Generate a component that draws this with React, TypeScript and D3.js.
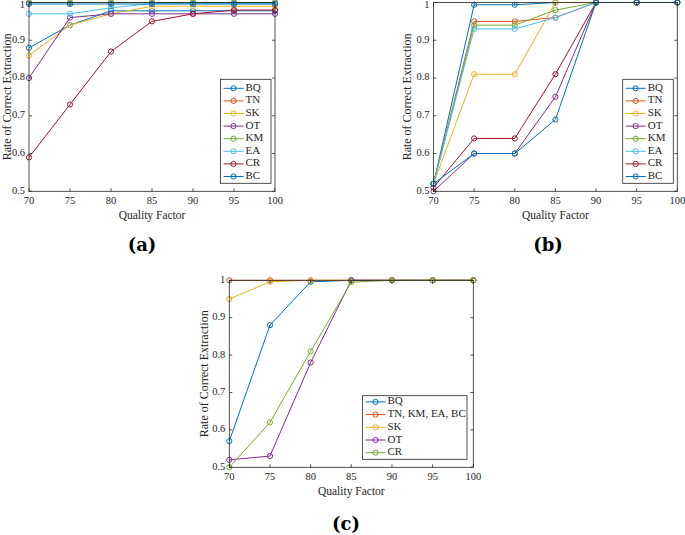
import React from "react";
import * as d3 from "d3";

// ---------- data ----------
const qualityFactors = [70, 75, 80, 85, 90, 95, 100];
const yTickValues = [0.5, 0.6, 0.7, 0.8, 0.9, 1];
const xTickValues = [70, 75, 80, 85, 90, 95, 100];

const namesAB = ["BQ", "TN", "SK", "OT", "KM", "EA", "CR", "BC"];
const colorsAB = ["#0072BD", "#D95319", "#EDB120", "#7E2F8E", "#77AC30", "#4DBEEE", "#A2142F", "#0072BD"];

// panel (a)
const aBQ = [0.88, 0.94, 0.978, 0.978, 0.978, 0.978, 0.978];
const aTN = [1, 1, 1, 1, 1, 1, 1];
const aSK = [0.86, 0.94, 0.97, 0.99, 0.99, 0.99, 0.99];
const aOT = [0.8, 0.96, 0.97, 0.97, 0.97, 0.97, 0.97];
const aKM = [1, 1, 1, 1, 1, 1, 1];
const aEA = [0.97, 0.97, 0.986, 0.997, 0.997, 0.997, 0.997];
const aCR = [0.59, 0.73, 0.87, 0.95, 0.97, 0.98, 0.98];
const aBC = [0.996, 0.996, 0.996, 0.996, 0.996, 0.996, 0.996];

// panel (b)
const bBQ = [0.52, 0.994, 0.994, 1, 1, 1, 1];
const bTN = [0.52, 0.95, 0.95, 0.96, 1, 1, 1];
const bSK = [0.52, 0.81, 0.81, 1, 1, 1, 1];
const bOT = [0.5, 0.6, 0.6, 0.75, 1, 1, 1];
const bKM = [0.52, 0.94, 0.94, 0.98, 1, 1, 1];
const bEA = [0.52, 0.93, 0.93, 0.96, 1, 1, 1];
const bCR = [0.51, 0.64, 0.64, 0.81, 1, 1, 1];
const bBC = [0.52, 0.6, 0.6, 0.69, 1, 1, 1];

// panel (c)
const namesC = ["BQ", "TN, KM, EA, BC", "SK", "OT", "CR"];
const colorsC = ["#0072BD", "#D95319", "#EDB120", "#7E2F8E", "#77AC30"];
const cBQ = [0.57, 0.88, 0.996, 1, 1, 1, 1];
const cTN = [1, 1, 1, 1, 1, 1, 1];
const cSK = [0.95, 0.996, 1, 1, 1, 1, 1];
const cOT = [0.52, 0.53, 0.78, 1, 1, 1, 1];
const cCR = [0.5, 0.62, 0.81, 0.995, 1, 1, 1];

const FONT = "'Liberation Serif', 'Times New Roman', serif";

type Series = { name: string; color: string; values: number[] };

type PanelProps = {
  series: Series[];
  x0: number; x1: number; y0: number; y1: number;
  legend: { left: number; right: number; top: number; bottom: number; first: number; step: number };
  yLabelX: number;
  xTickY: number;
  xLabelY: number;
  tag: string; tagX: number; tagY: number;
};

function Panel(p: PanelProps) {
  const x = d3.scaleLinear().domain([70, 100]).range([p.x0, p.x1]);
  const y = d3.scaleLinear().domain([0.5, 1]).range([p.y1, p.y0]);
  const line = d3.line<number>().x((_, i) => x(qualityFactors[i])).y((v) => y(v));
  const tl = 3;
  const lg = p.legend;
  return (
    <g>
      {/* series */}
      {p.series.map((s, si) => (
        <g key={si}>
          <path d={line(s.values) || ""} fill="none" stroke={s.color} strokeWidth={1} />
          {s.values.map((v, i) => (
            <circle key={i} cx={x(qualityFactors[i])} cy={y(v)} r={2.6} fill="none" stroke={s.color} strokeWidth={1} />
          ))}
        </g>
      ))}
      {/* box */}
      <rect x={p.x0} y={p.y0} width={p.x1 - p.x0} height={p.y1 - p.y0} fill="none" stroke="#262626" strokeWidth={0.8} />
      {/* x ticks */}
      {xTickValues.map((t) => (
        <g key={"x" + t}>
          <line x1={x(t)} x2={x(t)} y1={p.y1} y2={p.y1 - tl} stroke="#262626" strokeWidth={0.8} />
          <line x1={x(t)} x2={x(t)} y1={p.y0} y2={p.y0 + tl} stroke="#262626" strokeWidth={0.8} />
          <text x={x(t)} y={p.xTickY} textAnchor="middle" dominantBaseline="middle" fontFamily={FONT} fontSize={10.5} fill="#262626">{t}</text>
        </g>
      ))}
      {/* y ticks */}
      {yTickValues.map((t) => (
        <g key={"y" + t}>
          <line x1={p.x0} x2={p.x0 + tl} y1={y(t)} y2={y(t)} stroke="#262626" strokeWidth={0.8} />
          <line x1={p.x1} x2={p.x1 - tl} y1={y(t)} y2={y(t)} stroke="#262626" strokeWidth={0.8} />
          <text x={p.x0 - 4} y={Math.max(y(t), 6)} textAnchor="end" dominantBaseline="middle" fontFamily={FONT} fontSize={10.5} fill="#262626">{String(t)}</text>
        </g>
      ))}
      {/* axis labels */}
      <text x={(p.x0 + p.x1) / 2} y={p.xLabelY} textAnchor="middle" dominantBaseline="middle" fontFamily={FONT} fontSize={11.5} fill="#262626">Quality Factor</text>
      <text transform={`translate(${p.yLabelX},${(p.y0 + p.y1) / 2}) rotate(-90)`} textAnchor="middle" dominantBaseline="middle" fontFamily={FONT} fontSize={12} fill="#262626">Rate of Correct Extraction</text>
      {/* legend */}
      <rect x={lg.left} y={lg.top} width={lg.right - lg.left} height={lg.bottom - lg.top} fill="white" stroke="#262626" strokeWidth={0.8} />
      {p.series.map((s, i) => {
        const yy = lg.first + i * lg.step;
        return (
          <g key={"l" + i}>
            <line x1={lg.left + 3} x2={lg.left + 23} y1={yy} y2={yy} stroke={s.color} strokeWidth={1} />
            <circle cx={lg.left + 13} cy={yy} r={2.6} fill="none" stroke={s.color} strokeWidth={1} />
            <text x={lg.left + 25} y={yy} dominantBaseline="middle" fontFamily={FONT} fontSize={11} fill="#262626">{s.name}</text>
          </g>
        );
      })}
      {/* panel tag */}
      <text x={p.tagX} y={p.tagY} textAnchor="middle" dominantBaseline="middle" fontFamily="'DejaVu Serif', serif" fontWeight="bold" fontSize={18} fill="#000">{p.tag}</text>
    </g>
  );
}

function mk(names: string[], colors: string[], vals: number[][]): Series[] {
  return vals.map((v, i) => ({ name: names[i], color: colors[i], values: v }));
}

export default function App() {
  const seriesA = mk(namesAB, colorsAB, [aBQ, aTN, aSK, aOT, aKM, aEA, aCR, aBC]);
  const seriesB = mk(namesAB, colorsAB, [bBQ, bTN, bSK, bOT, bKM, bEA, bCR, bBC]);
  const seriesC = mk(namesC, colorsC, [cBQ, cTN, cSK, cOT, cCR]);
  return (
    <svg width={685} height={535} style={{ position: "absolute", left: 0, top: 0, background: "white" }}>
      <rect x={0} y={0} width={685} height={535} fill="white" />
      <Panel
        series={seriesA}
        x0={29} x1={275} y0={2.5} y1={191.3}
        legend={{ left: 220.5, right: 271, top: 79.3, bottom: 183.3, first: 88.3, step: 12.6 }}
        yLabelX={8} xTickY={201.5} xLabelY={216.5}
        tag="(a)" tagX={142} tagY={246}
      />
      <Panel
        series={seriesB}
        x0={433.5} x1={677.3} y0={2.5} y1={191.3}
        legend={{ left: 622.7, right: 673.3, top: 79.3, bottom: 183.3, first: 88.3, step: 12.6 }}
        yLabelX={408} xTickY={201.5} xLabelY={216.5}
        tag="(b)" tagX={548} tagY={246}
      />
      <Panel
        series={seriesC}
        x0={229.3} x1={473.3} y0={280.3} y1={467.3}
        legend={{ left: 362.5, right: 467, top: 395.7, bottom: 459.3, first: 401.9, step: 12.7 }}
        yLabelX={205} xTickY={477.5} xLabelY={492}
        tag="(c)" tagX={346} tagY={525}
      />
    </svg>
  );
}
